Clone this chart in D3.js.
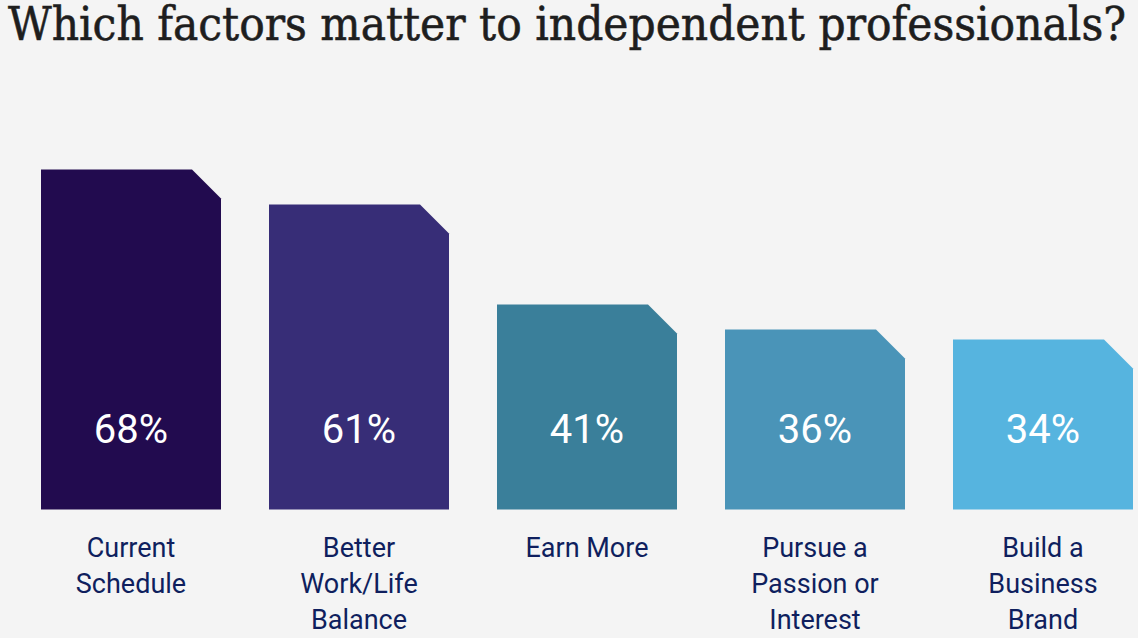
<!DOCTYPE html>
<html><head><meta charset="utf-8">
<script src="https://cdn.jsdelivr.net/npm/d3@7"></script>
<style>body{margin:0;background:#f4f4f4;} svg{display:block;}</style>
</head><body>
<svg id="c" width="1138" height="638"></svg>
<script>
const categories = ["Current Schedule", "Better Work/Life Balance", "Earn More", "Pursue a Passion or Interest", "Build a Business Brand"];
const labelLines = [["Current","Schedule"],["Better","Work/Life","Balance"],["Earn More"],["Pursue a","Passion or","Interest"],["Build a","Business","Brand"]];
const values = [68, 61, 41, 36, 34];
const colors = ["#220b4f", "#372d77", "#3a7f9a", "#4a94b8", "#56b4df"];
const title = "Which factors matter to independent professionals?";

const svg = d3.select("#c");
svg.append("rect").attr("width",1138).attr("height",638).attr("fill","#f4f4f4");

svg.append("text").attr("x",8).attr("y",40)
  .attr("font-family","'DejaVu Serif', serif").attr("font-size",47)
  .attr("fill","#1e1e1e").attr("stroke","#1e1e1e").attr("stroke-width",0.6)
  .attr("textLength",1118).attr("lengthAdjust","spacingAndGlyphs")
  .text(title);

const x = d3.scaleBand().domain(categories).range([17, 1157]).paddingInner(48/228).paddingOuter(24/228);
const y = d3.scaleLinear().domain([0,100]).range([509.5, 9.5]);
const cut = 29;

const g = svg.append("g");
categories.forEach((c,i)=>{
  const x0 = x(c), w = x.bandwidth(), y0 = y(values[i]), yb = y(0);
  const p = d3.path();
  p.moveTo(x0, yb); p.lineTo(x0, y0); p.lineTo(x0+w-cut, y0); p.lineTo(x0+w, y0+cut); p.lineTo(x0+w, yb); p.closePath();
  g.append("path").attr("d", p.toString()).attr("fill", colors[i]);
  g.append("text").attr("x", x0+w/2).attr("y", 443).attr("text-anchor","middle")
    .attr("font-family","Roboto, sans-serif").attr("font-size",40).attr("fill","#ffffff")
    .text(values[i]+"%");
  const t = g.append("text").attr("text-anchor","middle")
    .attr("font-family","Roboto, sans-serif").attr("font-size",27).attr("fill","#0f1f5e");
  labelLines[i].forEach((l,j)=>{
    t.append("tspan").attr("x", x0+w/2).attr("y", 557 + j*36).text(l);
  });
});
</script>
</body></html>
